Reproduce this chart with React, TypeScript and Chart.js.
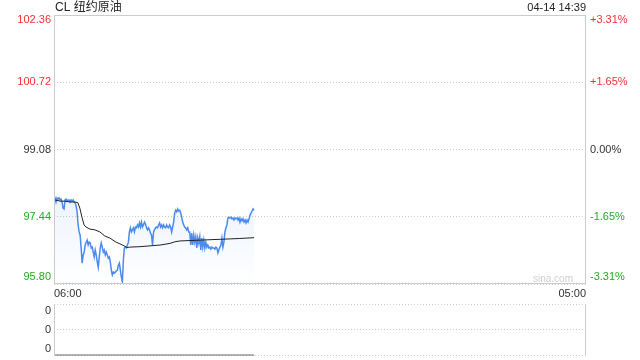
import React, { useEffect, useRef } from 'react';
import { Chart, registerables } from 'chart.js';

Chart.register(...registerables);

const FONT = "'Liberation Sans', Arial, 'Noto Sans CJK SC', sans-serif";

const TITLE = 'CL 纽约原油';
const STAMP = '04-14 14:39';
const WATERMARK = 'sina.com';
const PREV_CLOSE = 99.08;
const PRICE_TICKS = [95.8, 97.44, 99.08, 100.72, 102.36];
const PCT_TICKS = ['-3.31%', '-1.65%', '0.00%', '+1.65%', '+3.31%'];
const X_START = '06:00';
const X_END = '05:00';
const LAST_TIME = '14:39';

// price samples, evenly spaced from 06:00 to 14:39
const PRICES = [
  97.97, 97.9, 97.8, 97.9, 97.87, 97.9, 97.85, 97.87, 97.8, 97.65,
  97.63, 97.85, 97.87, 97.82, 97.85, 97.85, 97.8, 97.85, 97.82, 97.85,
  97.8, 97.78, 97.7, 97.56, 97.24, 97.07, 96.99, 96.68, 96.31, 96.51,
  96.58, 96.75, 96.82, 96.87, 96.75, 96.82, 96.8, 96.68, 96.7, 96.58,
  96.46, 96.63, 96.51, 96.34, 96.21, 96.46, 96.68, 96.8, 96.7, 96.58,
  96.63, 96.51, 96.58, 96.51, 96.43, 96.46, 96.34, 96.14, 96.02, 96.09,
  96.07, 96.09, 96.12, 96.14, 96.26, 96.31, 96.14, 95.97, 95.85, 96.39,
  96.68, 96.7, 96.68, 96.75, 96.82, 97.07, 97.17, 97.07, 97.12, 97.17,
  97.07, 97.19, 97.17, 97.24, 97.19, 97.29, 97.19, 97.31, 97.19, 97.24,
  97.31, 97.26, 97.17, 97.12, 97.17, 97.12, 97.04, 96.99, 96.75, 97.07,
  97.12, 97.17, 97.19, 97.17, 97.24, 97.29, 97.19, 97.24, 97.17, 97.24,
  97.19, 97.17, 97.24, 97.19, 97.17, 97.24, 97.19, 97.07, 97.19, 97.31,
  97.53, 97.6, 97.56, 97.63, 97.58, 97.6, 97.53, 97.43, 97.31, 97.24,
  97.19, 97.17, 97.12, 97.17, 97.07, 97.07, 96.75, 97.04, 96.75, 96.99,
  96.82, 96.95, 96.68, 96.92, 96.8, 96.95, 96.63, 96.92, 96.7, 96.87,
  96.68, 96.82, 96.7, 96.75, 96.68, 96.7, 96.65, 96.7, 96.68, 96.68,
  96.65, 96.7, 96.68, 96.56, 96.63, 96.7, 96.75, 96.92, 96.7, 96.82,
  97.07, 97.17, 97.24, 97.41, 97.43, 97.41, 97.43, 97.39, 97.41, 97.36,
  97.41, 97.39, 97.41, 97.36, 97.41, 97.31, 97.39, 97.34, 97.39, 97.31,
  97.36, 97.29, 97.36, 97.31, 97.39, 97.48, 97.53, 97.58, 97.63, 97.6,
];

const AVG_TIMES = [
  '06:03', '06:16', '06:29', '06:42', '06:55', '07:02', '07:07', '07:13', '07:18', '07:23',
  '07:33', '07:46', '07:59', '08:12', '08:25', '08:33', '08:41', '08:51', '09:02', '09:09',
  '09:17', '09:43', '10:09', '10:35', '11:01', '11:14', '11:27', '11:53', '12:19', '12:45',
  '13:11', '13:37', '14:02', '14:39',
];
const AVG_VALUES = [
  97.85, 97.82, 97.82, 97.8, 97.8, 97.78, 97.65, 97.41, 97.24, 97.19,
  97.14, 97.12, 97.07, 96.97, 96.92, 96.87, 96.82, 96.78, 96.73, 96.69,
  96.7, 96.71, 96.73, 96.75, 96.79, 96.83, 96.85, 96.86, 96.87, 96.88,
  96.89, 96.9, 96.91, 96.93,
];

const VOL_TIMES = ['06:00', '14:39'];
const VOL_VALUES = [0, 0];
const VOL_TICKS = [0, 0.5, 1];
const VOL_LABELS = ['0', '0', '0'];

const RED = '#ee3333';
const GREEN = '#22aa22';
const DARK = '#333333';
const FRAME = '#cccccc';

const toMin = (t: string) => {
  const [h, m] = t.split(':').map(Number);
  return (h * 60 + m - 360 + 1440) % 1440;
};

const X_MAX = toMin(X_END);
const LAST_MIN = toMin(LAST_TIME);

const priceColor = (v: number) => (v > PREV_CLOSE ? RED : v < PREV_CLOSE ? GREEN : DARK);

const mainPlugin = {
  id: 'mainDecor',
  beforeDatasetsDraw(chart: any) {
    const { ctx, chartArea: ca } = chart;
    ctx.save();
    ctx.font = `10px ${FONT}`;
    ctx.fillStyle = '#cfcfcf';
    ctx.textAlign = 'right';
    ctx.textBaseline = 'middle';
    ctx.fillText(WATERMARK, ca.right - 13, ca.bottom - 5);
    ctx.restore();
  },
  afterDraw(chart: any) {
    const { ctx, chartArea: ca } = chart;
    const y = chart.scales.y;
    ctx.save();
    ctx.strokeStyle = FRAME;
    ctx.lineWidth = 1;
    ctx.strokeRect(ca.left + 0.5, ca.top + 0.5, ca.right - ca.left - 1, ca.bottom - ca.top - 1);

    ctx.font = `11px ${FONT}`;
    ctx.textBaseline = 'middle';
    const n = PRICE_TICKS.length;
    PRICE_TICKS.forEach((v, i) => {
      let py = y.getPixelForValue(v);
      if (i === 0) py -= 7;
      if (i === n - 1) py += 5;
      ctx.fillStyle = priceColor(v);
      ctx.textAlign = 'right';
      ctx.fillText(v.toFixed(2), ca.left - 3, py);
      ctx.textAlign = 'left';
      ctx.fillText(PCT_TICKS[i], ca.right + 4, py);
    });

    ctx.fillStyle = '#222';
    ctx.font = `12px ${FONT}`;
    ctx.textAlign = 'left';
    ctx.fillText(TITLE, ca.left + 1, 8);
    ctx.font = `11px ${FONT}`;
    ctx.textAlign = 'right';
    ctx.fillText(STAMP, ca.right, 8);
    ctx.restore();
  },
};

const volPlugin = {
  id: 'volDecor',
  afterDraw(chart: any) {
    const { ctx, chartArea: ca } = chart;
    const y = chart.scales.y;
    ctx.save();
    ctx.strokeStyle = FRAME;
    ctx.lineWidth = 1;
    ctx.beginPath();
    ctx.moveTo(ca.left + 0.5, ca.top);
    ctx.lineTo(ca.left + 0.5, ca.bottom + 1);
    ctx.moveTo(ca.right - 0.5, ca.top);
    ctx.lineTo(ca.right - 0.5, ca.bottom + 1);
    ctx.stroke();
    ctx.font = `11px ${FONT}`;
    ctx.fillStyle = DARK;
    ctx.textAlign = 'right';
    ctx.textBaseline = 'middle';
    const n = VOL_TICKS.length;
    VOL_TICKS.forEach((v, i) => {
      let py = y.getPixelForValue(v);
      if (i === 0) py -= 6;
      if (i === n - 1) py += 7;
      ctx.fillText(VOL_LABELS[i], ca.left - 3, py);
    });
    ctx.restore();
  },
};

export default function App() {
  const mainRef = useRef<HTMLCanvasElement>(null);
  const volRef = useRef<HTMLCanvasElement>(null);

  useEffect(() => {
    const priceData = PRICES.map((v, i) => ({ x: (i * LAST_MIN) / (PRICES.length - 1), y: v }));
    const avgData = AVG_TIMES.map((t, i) => ({ x: toMin(t), y: AVG_VALUES[i] }));

    const main = new Chart(mainRef.current as HTMLCanvasElement, {
      type: 'line',
      data: {
        datasets: [
          {
            label: 'avg',
            data: avgData,
            borderColor: '#222',
            borderWidth: 1,
            pointRadius: 0,
            fill: false,
            order: 0,
          } as any,
          {
            label: 'price',
            data: priceData,
            borderColor: '#4b8bee',
            borderWidth: 1.5,
            pointRadius: 0,
            fill: 'start',
            order: 1,
            backgroundColor: (c: any) => {
              const ca = c.chart.chartArea;
              if (!ca) return 'rgba(75,139,238,0.08)';
              const g = c.chart.ctx.createLinearGradient(0, ca.top + (ca.bottom - ca.top) * 0.65, 0, ca.bottom);
              g.addColorStop(0, 'rgba(75,139,238,0.11)');
              g.addColorStop(1, 'rgba(75,139,238,0.0)');
              return g;
            },
          } as any,
        ],
      },
      options: {
        animation: false,
        responsive: false,
        maintainAspectRatio: false,
        layout: { padding: { top: 15, left: 0, right: 0, bottom: 0 } },
        plugins: { legend: { display: false }, tooltip: { enabled: false }, title: { display: false } },
        scales: {
          x: {
            type: 'linear',
            min: 0,
            max: X_MAX,
            afterBuildTicks: (s: any) => {
              s.ticks = [{ value: 0 }, { value: X_MAX }];
            },
            afterFit: (s: any) => {
              s.height = 16;
            },
            ticks: {
              align: 'inner',
              maxRotation: 0,
              autoSkip: false,
              padding: 3,
              color: DARK,
              font: { size: 11, family: FONT },
              callback: (v: any) => (v === 0 ? X_START : X_END),
            },
            grid: { display: false, drawTicks: false },
            border: { display: false },
          },
          y: {
            position: 'left',
            min: PRICE_TICKS[0],
            max: PRICE_TICKS[PRICE_TICKS.length - 1],
            afterBuildTicks: (s: any) => {
              s.ticks = PRICE_TICKS.map((v) => ({ value: v }));
            },
            afterFit: (s: any) => {
              s.width = 54;
            },
            ticks: { display: false },
            grid: { color: FRAME, drawTicks: false, lineWidth: 1 },
            border: { display: false, dash: [1, 2] },
          },
          y2: {
            position: 'right',
            min: PRICE_TICKS[0],
            max: PRICE_TICKS[PRICE_TICKS.length - 1],
            afterFit: (s: any) => {
              s.width = 54;
            },
            ticks: { display: false },
            grid: { display: false, drawTicks: false },
            border: { display: false },
          },
        },
      } as any,
      plugins: [mainPlugin],
    });

    const volData = VOL_TIMES.map((t, i) => ({ x: toMin(t), y: VOL_VALUES[i] }));
    const vol = new Chart(volRef.current as HTMLCanvasElement, {
      type: 'line',
      data: {
        datasets: [
          {
            label: 'vol',
            data: volData,
            borderColor: '#666',
            borderWidth: 1,
            pointRadius: 0,
            fill: false,
            clip: false,
          } as any,
        ],
      },
      options: {
        animation: false,
        responsive: false,
        maintainAspectRatio: false,
        layout: { padding: { top: 4, bottom: 5, left: 0, right: 54 } },
        plugins: { legend: { display: false }, tooltip: { enabled: false } },
        scales: {
          x: { type: 'linear', min: 0, max: X_MAX, display: false },
          y: {
            position: 'left',
            min: VOL_TICKS[0],
            max: VOL_TICKS[VOL_TICKS.length - 1],
            afterBuildTicks: (s: any) => {
              s.ticks = VOL_TICKS.map((v) => ({ value: v }));
            },
            afterFit: (s: any) => {
              s.width = 54;
            },
            ticks: { display: false },
            grid: { color: FRAME, drawTicks: false, lineWidth: 1 },
            border: { display: false, dash: [1, 2] },
          },
        },
      } as any,
      plugins: [volPlugin],
    });

    return () => {
      main.destroy();
      vol.destroy();
    };
  }, []);

  return (
    <div style={{ position: 'absolute', left: 0, top: 0, width: 640, height: 360, background: '#fff' }}>
      <canvas ref={mainRef} width={640} height={300} style={{ position: 'absolute', left: 0, top: 0, display: 'block' }} />
      <canvas ref={volRef} width={640} height={60} style={{ position: 'absolute', left: 0, top: 300, display: 'block' }} />
    </div>
  );
}
